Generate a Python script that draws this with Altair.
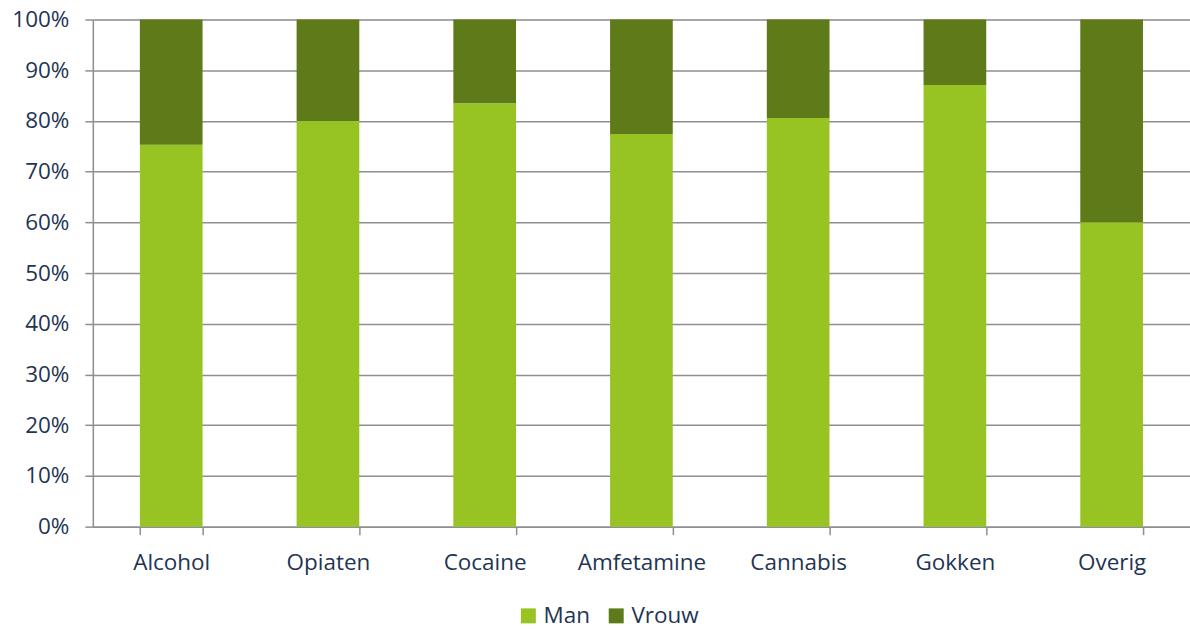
import altair as alt
import pandas as pd

categories = ["Alcohol", "Opiaten", "Cocaine", "Amfetamine", "Cannabis", "Gokken", "Overig"]
man = [75.3, 80.0, 83.5, 77.4, 80.6, 87.1, 60.0]
vrouw = [round(100 - m, 1) for m in man]
series = ["Man", "Vrouw"]
colors = ["#98c423", "#5f7a18"]

rows = []
for c, m, v in zip(categories, man, vrouw):
    rows.append({"categorie": c, "geslacht": "Man", "aandeel": m / 100, "orde": 0})
    rows.append({"categorie": c, "geslacht": "Vrouw", "aandeel": v / 100, "orde": 1})
df = pd.DataFrame(rows)

text_color = "#1f3553"
grid_color = "#8e8f93"
font = "Open Sans"
fs = 22.5

chart = (
    alt.Chart(df)
    .mark_bar()
    .encode(
        x=alt.X(
            "categorie:N",
            sort=categories,
            title=None,
            scale=alt.Scale(paddingInner=0.6, paddingOuter=0.3),
            axis=alt.Axis(
                labelAngle=0,
                tickBand="extent",
                tickSize=8,
                tickColor=grid_color,
                tickWidth=1.5,
                domainColor=grid_color,
                domainWidth=1.5,
                labelPadding=17,
                labelFontSize=fs,
                labelColor=text_color,
                labelFont=font,
                grid=False,
            ),
        ),
        y=alt.Y(
            "aandeel:Q",
            stack="zero",
            title=None,
            scale=alt.Scale(domain=[0, 1], nice=False),
            axis=alt.Axis(
                format=".0%",
                values=[i / 10 for i in range(11)],
                tickSize=8,
                tickColor=grid_color,
                tickWidth=1.5,
                gridColor=grid_color,
                gridWidth=1.5,
                domainColor=grid_color,
                domainWidth=1.5,
                labelPadding=16,
                labelFontSize=fs,
                labelColor=text_color,
                labelFont=font,
            ),
        ),
        color=alt.Color(
            "geslacht:N",
            scale=alt.Scale(domain=series, range=colors),
            legend=alt.Legend(
                title=None,
                orient="none",
                direction="horizontal",
                legendX=425,
                legendY=586,
                symbolType="square",
                symbolSize=225,
                symbolStrokeWidth=0,
                labelFontSize=fs,
                labelColor=text_color,
                labelFont=font,
                columnPadding=14,
                labelOffset=4,
            ),
        ),
        order=alt.Order("orde:Q"),
    )
    .properties(width=1099, height=508, padding={"left": 93, "top": 19, "right": 0, "bottom": 103},
                autosize=alt.AutoSizeParams(type="none"))
    .configure_view(stroke=None)
    .configure(background="white")
)

chart.save("out.html", embed_options={"renderer": "svg", "actions": False})
